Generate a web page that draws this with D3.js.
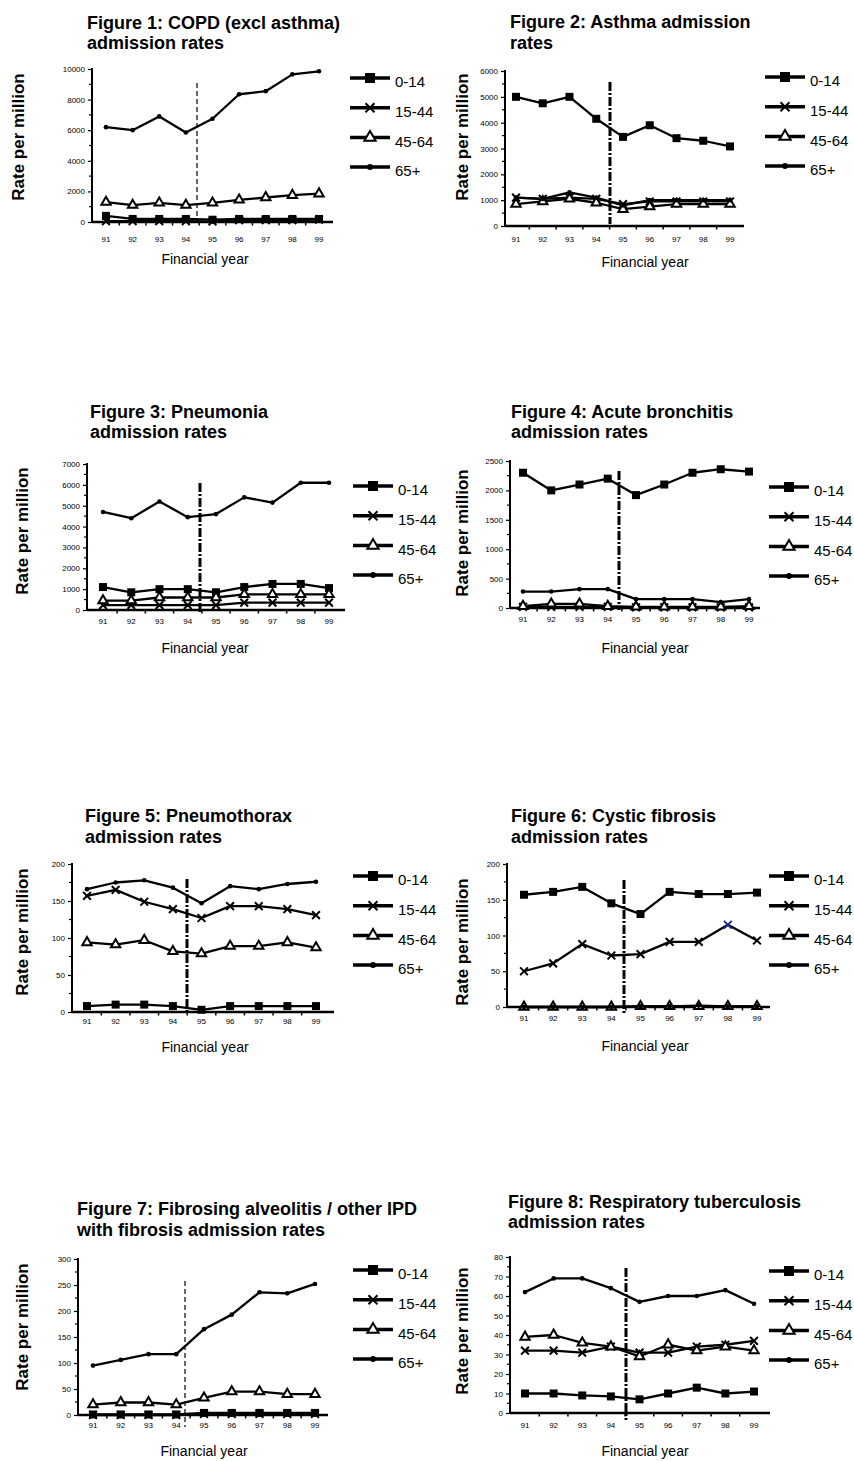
<!DOCTYPE html>
<html>
<head>
<meta charset="utf-8">
<script src="https://cdn.jsdelivr.net/npm/d3@7"></script>
<style>
  body { margin: 0; background: #fff; }
  svg { display: block; font-family: "Liberation Sans", Arial, sans-serif; }
</style>
</head>
<body>
<svg id="chart" width="854" height="1461"></svg>
<script>
const years = ['91', '92', '93', '94', '95', '96', '97', '98', '99'];
const ageGroups = ['0-14', '15-44', '45-64', '65+'];

const titles = [
  ['Figure 1: COPD (excl asthma)', 'admission rates'],
  ['Figure 2: Asthma admission', 'rates'],
  ['Figure 3: Pneumonia', 'admission rates'],
  ['Figure 4: Acute bronchitis', 'admission rates'],
  ['Figure 5: Pneumothorax', 'admission rates'],
  ['Figure 6: Cystic fibrosis', 'admission rates'],
  ['Figure 7: Fibrosing alveolitis / other IPD', 'with fibrosis admission rates'],
  ['Figure 8: Respiratory tuberculosis', 'admission rates'],
];

const yTicks = [
  [0, 2000, 4000, 6000, 8000, 10000],
  [0, 1000, 2000, 3000, 4000, 5000, 6000],
  [0, 1000, 2000, 3000, 4000, 5000, 6000, 7000],
  [0, 500, 1000, 1500, 2000, 2500],
  [0, 50, 100, 150, 200],
  [0, 50, 100, 150, 200],
  [0, 50, 100, 150, 200, 250, 300],
  [0, 10, 20, 30, 40, 50, 60, 70, 80],
];

// rows: 0-14, 15-44, 45-64, 65+
const copd = [
  [400, 200, 200, 200, 150, 200, 200, 200, 200],
  [60, 60, 60, 60, 30, 120, 120, 120, 150],
  [1300, 1100, 1250, 1100, 1250, 1450, 1600, 1750, 1850],
  [6200, 6000, 6900, 5850, 6750, 8350, 8550, 9650, 9850],
];
const asthma = [
  [5000, 4750, 5000, 4150, 3450, 3900, 3400, 3300, 3080],
  [1100, 1050, 1100, 1050, 850, 950, 950, 950, 950],
  [850, 950, 1050, 900, 650, 750, 850, 850, 850],
  [1100, 1050, 1300, 1100, 800, 1000, 1000, 1000, 1000],
];
const pneumonia = [
  [1100, 850, 1000, 1000, 850, 1100, 1250, 1250, 1050],
  [230, 230, 230, 230, 230, 350, 350, 350, 350],
  [450, 450, 600, 600, 600, 750, 750, 750, 750],
  [4700, 4400, 5200, 4450, 4600, 5400, 5150, 6100, 6100],
];
const bronchitis = [
  [2300, 2000, 2100, 2200, 1920, 2100, 2300, 2360, 2320],
  [20, 20, 20, 20, 10, 10, 10, 10, 10],
  [30, 70, 70, 30, 20, 20, 20, 20, 30],
  [280, 280, 320, 320, 150, 150, 150, 100, 150],
];
const pneumothorax = [
  [8, 10, 10, 8, 3, 8, 8, 8, 8],
  [157, 165, 149, 139, 127, 143, 143, 139, 131],
  [94, 91, 97, 82, 79, 89, 89, 94, 87],
  [166, 175, 178, 168, 147, 170, 166, 173, 176],
];
const cysticFibrosis = [
  [157, 161, 168, 145, 130, 161, 158, 158, 160],
  [50, 61, 88, 72, 74, 91, 91, 115, 93],
  [0, 0, 0, 0, 1, 1, 1, 1, 1],
  [0, 0, 0, 0, 1, 1, 2, 1, 1],
];
const fibrosis = [
  [1, 1, 1, 1, 4, 4, 4, 4, 4],
  [0, 0, 0, 0, 2, 2, 2, 2, 2],
  [20, 24, 24, 20, 33, 45, 45, 40, 40],
  [95, 106, 117, 117, 165, 193, 236, 234, 252],
];
const tuberculosis = [
  [10, 10, 9, 8.5, 7, 10, 13, 10, 11],
  [32, 32, 31, 34, 31, 31, 34, 35, 37],
  [39, 40, 36, 34, 29, 35, 32, 34, 32],
  [62, 69, 69, 64, 57, 60, 60, 63, 56],
];

const figures = [copd, asthma, pneumonia, bronchitis, pneumothorax, cysticFibrosis, fibrosis, tuberculosis];

// one blue marker in figure 6 (15-44, year 98)
const blueMarks = [[5, 1, 7]];

// page placement of each panel
const layout = [
  { ax: 92, top: 69, bot: 222, x0: 106, x1: 319, xe: 333, dx: 197, dt: 83, db: 222, thin: true, lx: 350, ly: 78, tx: 87, t1: 25, t2: 40, yx: 18, yy: 137, xy: 239, fx: 205, fy: 259 },
  { ax: 505, top: 71, bot: 226, x0: 516, x1: 730, xe: 744, dx: 610, dt: 82, db: 224, thin: false, lx: 765, ly: 77, tx: 510, t1: 22, t2: 42, yx: 462, yy: 137, xy: 239, fx: 645, fy: 262 },
  { ax: 87, top: 464, bot: 610, x0: 103, x1: 329, xe: 345, dx: 200, dt: 483, db: 612, thin: false, lx: 353, ly: 486, tx: 90, t1: 413, t2: 430, yx: 22, yy: 531, xy: 621, fx: 205, fy: 648 },
  { ax: 510, top: 461, bot: 608, x0: 523, x1: 749, xe: 760, dx: 619, dt: 471, db: 610, thin: false, lx: 769, ly: 487, tx: 511, t1: 413, t2: 430, yx: 462, yy: 533, xy: 619, fx: 645, fy: 648 },
  { ax: 72, top: 864, bot: 1012, x0: 87, x1: 316, xe: 334, dx: 187, dt: 879, db: 1014, thin: false, lx: 353, ly: 876, tx: 85, t1: 817, t2: 835, yx: 22, yy: 932, xy: 1021, fx: 205, fy: 1047 },
  { ax: 507, top: 864, bot: 1007, x0: 524, x1: 757, xe: 770, dx: 624, dt: 880, db: 1013, thin: false, lx: 769, ly: 876, tx: 511, t1: 817, t2: 835, yx: 462, yy: 942, xy: 1018, fx: 645, fy: 1046 },
  { ax: 78, top: 1259, bot: 1415, x0: 93, x1: 315, xe: 328, dx: 185, dt: 1281, db: 1427, thin: true, lx: 353, ly: 1270, tx: 77, t1: 1209, t2: 1229, yx: 22, yy: 1327, xy: 1425, fx: 204, fy: 1451 },
  { ax: 510, top: 1257, bot: 1413, x0: 525, x1: 754, xe: 770, dx: 626, dt: 1268, db: 1420, thin: false, lx: 769, ly: 1271, tx: 508, t1: 1203, t2: 1220, yx: 462, yy: 1331, xy: 1425, fx: 645, fy: 1451 },
];
const titleGap = 20.5;

const symbolX = {
  draw(context, size) {
    const r = Math.sqrt(size) / 2;
    context.moveTo(-r, -r);
    context.lineTo(r, r);
    context.moveTo(-r, r);
    context.lineTo(r, -r);
  },
};
const markerTypes = [d3.symbolSquare, symbolX, d3.symbolTriangle, d3.symbolCircle];
const markerSize = [64, 60, 38, 17];
const legendSize = [100, 80, 55, 28];

function styleMarker(sel, k) {
  if (k === 0) sel.attr('fill', '#000').attr('stroke', 'none');
  if (k === 1) sel.attr('fill', 'none').attr('stroke', '#000').attr('stroke-width', 2);
  if (k === 2) sel.attr('fill', '#fff').attr('stroke', '#000').attr('stroke-width', 2);
  if (k === 3) sel.attr('fill', '#000').attr('stroke', 'none');
}

const chart = d3.select('#chart');

figures.forEach((series, f) => {
  const L = layout[f];
  const ticks = yTicks[f];
  const g = chart.append('g').attr('class', 'figure');

  const x = d3.scalePoint().domain(years).range([L.x0, L.x1]);
  const y = d3.scaleLinear().domain([0, ticks[ticks.length - 1]]).range([L.bot, L.top]);
  const step = x.step();

  // two-line title
  const mid = (L.t1 + L.t2) / 2;
  g.append('g').selectAll('text').data(titles[f]).join('text')
    .attr('x', L.tx)
    .attr('y', (d, i) => mid + (i - 0.5) * titleGap)
    .attr('dy', '0.35em')
    .attr('font-size', 18).attr('font-weight', 'bold')
    .text((d) => d);

  // y axis label
  g.append('text')
    .attr('transform', `translate(${L.yx},${L.yy}) rotate(-90)`)
    .attr('text-anchor', 'middle').attr('dy', '0.35em')
    .attr('font-size', 17).attr('font-weight', 'bold')
    .text('Rate per million');

  // y axis
  const yAxis = g.append('g').attr('transform', `translate(${L.ax},0)`)
    .call(d3.axisLeft(y).tickValues(ticks).tickSize(4).tickPadding(3).tickFormat(d3.format('d')));
  yAxis.select('.domain').attr('stroke-width', 2).attr('d', `M0,${L.top - 1}V${L.bot}`);
  yAxis.selectAll('.tick line').attr('stroke-width', 1.2);
  yAxis.selectAll('.tick text').attr('font-size', 8).attr('font-family', null);

  const minor = d3.pairs(ticks).map(([a, b]) => (a + b) / 2);
  g.append('g').selectAll('line').data(minor).join('line')
    .attr('x1', L.ax - 3).attr('x2', L.ax)
    .attr('y1', (d) => y(d)).attr('y2', (d) => y(d))
    .attr('stroke', '#000').attr('stroke-width', 1.2);

  // x axis
  g.append('line')
    .attr('x1', L.ax).attr('x2', L.xe).attr('y1', L.bot).attr('y2', L.bot)
    .attr('stroke', '#000').attr('stroke-width', 2.5);
  const bounds = years.slice(0, years.length - 1).map((d) => x(d) + step / 2);
  g.append('g').selectAll('line').data(bounds).join('line')
    .attr('x1', (d) => d).attr('x2', (d) => d)
    .attr('y1', L.bot).attr('y2', L.bot + 3.5)
    .attr('stroke', '#000').attr('stroke-width', 1.5);
  g.append('g').selectAll('text').data(years).join('text')
    .attr('x', (d) => x(d)).attr('y', L.xy).attr('dy', '0.35em')
    .attr('text-anchor', 'middle').attr('font-size', 8)
    .text((d) => d);

  g.append('text')
    .attr('x', L.fx).attr('y', L.fy).attr('dy', '0.35em')
    .attr('text-anchor', 'middle').attr('font-size', 14)
    .text('Financial year');

  // change of coding marker between 94 and 95
  g.append('line')
    .attr('x1', L.dx).attr('x2', L.dx).attr('y1', L.dt).attr('y2', L.db)
    .attr('stroke', '#000')
    .attr('stroke-width', L.thin ? 1.2 : 3)
    .attr('stroke-dasharray', L.thin ? '5,3' : '9,2,2,2');

  // series
  const line = d3.line().x((d, i) => x(years[i])).y((d) => y(d));
  series.forEach((vals, k) => {
    g.append('path')
      .attr('d', line(vals))
      .attr('fill', 'none').attr('stroke', '#000').attr('stroke-width', 2.3)
      .attr('stroke-linejoin', 'round');
    g.append('g').selectAll('path').data(vals).join('path')
      .attr('transform', (d, i) => `translate(${x(years[i])},${y(d)})`)
      .attr('d', d3.symbol().type(markerTypes[k]).size(markerSize[k]))
      .call(styleMarker, k)
      .filter((d, i) => blueMarks.some((b) => b[0] === f && b[1] === k && b[2] === i))
      .attr('stroke', '#1a2a8c');
  });

  // legend
  const leg = g.append('g').selectAll('g').data(ageGroups).join('g')
    .attr('transform', (d, k) => `translate(${L.lx},${L.ly + k * 29.7})`);
  leg.append('line')
    .attr('x1', 0).attr('x2', 40)
    .attr('stroke', '#000').attr('stroke-width', 3.5);
  leg.append('path')
    .attr('transform', 'translate(20,0)')
    .attr('d', (d, k) => d3.symbol().type(markerTypes[k]).size(legendSize[k])())
    .each(function (d, k) { d3.select(this).call(styleMarker, k); });
  leg.append('text')
    .attr('x', 45).attr('y', 4).attr('dy', '0.35em')
    .attr('font-size', 15)
    .text((d) => d);
});
</script>
</body>
</html>
